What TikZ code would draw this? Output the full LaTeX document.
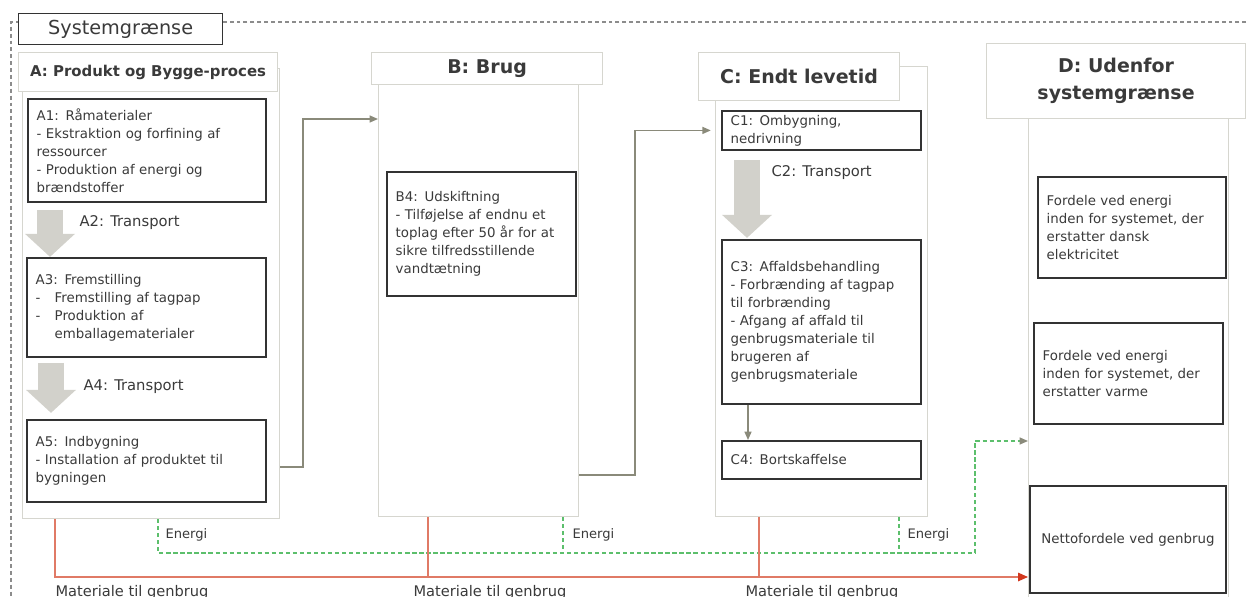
\documentclass[tikz,border=0pt]{standalone}
\usepackage{fontspec}
\setmainfont{DejaVu Sans}
\usetikzlibrary{arrows.meta, positioning}
\definecolor{cdark}{HTML}{333333}
\definecolor{ctext}{HTML}{3A3A3A}
\definecolor{cedge}{HTML}{D6D6CF}
\definecolor{cline}{HTML}{8A8A7A}
\definecolor{cshade}{HTML}{D2D1CB}
\definecolor{cgreen}{HTML}{5CBF6C}
\definecolor{cred}{HTML}{E07A66}
\definecolor{credtip}{HTML}{D2381E}
\definecolor{cgrey}{HTML}{8C8C8C}
\tikzset{
  every picture/.style={line width=0.8pt},
  col/.style={draw=cedge, fill=white, anchor=north west, inner sep=0pt},
  title/.style={draw=cedge, fill=white, anchor=north west, align=center, text=ctext, font=\fontsize{13.5}{19}\selectfont\bfseries},
  box/.style={draw=cdark, line width=1.3pt, fill=white, anchor=north west, align=left, inner xsep=2.2mm, inner ysep=1pt, text=ctext, font=\fontsize{9.5}{12.8}\selectfont},
  flow/.style={-{Triangle[length=6pt, width=5pt]}, draw=cline, line width=1pt},
  shaft/.style={draw=cshade, line width=6.5mm, -{Triangle[length=5.75mm, width=12.5mm, line width=0pt]}},
  energi/.style={draw=cgreen, dash pattern=on 3pt off 2pt, line width=0.9pt},
  genbrug/.style={draw=cred, line width=0.9pt},
  note/.style={text=ctext, font=\fontsize{9.3}{11}\selectfont, inner sep=0pt},
  boundary/.style={draw=cgrey, dash pattern=on 2.8pt off 2.1pt, line width=0.8pt},
}

\begin{document}
\begin{tikzpicture}
  \useasboundingbox (0,0) rectangle (31.2,-14.925);
  \clip (0,0) rectangle (31.2,-14.925);
  % system boundary
  \draw[boundary] (31.5,-0.55) -- (0.275,-0.55) -- (0.275,-15.2);
  \node[draw=cdark, line width=0.9pt, fill=white, anchor=north west, minimum width=5.1cm, minimum height=0.775cm, text=ctext, font=\fontsize{13.7}{16}\selectfont] (sys) at (0.45,-0.325) {Systemgrænse};

  % columns
  \node[col, minimum width=6.425cm, minimum height=11.25cm] (abody) at (0.55,-1.7) {};
  \node[col, minimum width=5cm, minimum height=11.2cm] (bbody) at (9.45,-1.7) {};
  \node[col, minimum width=5.3cm, minimum height=11.25cm] (cbody) at (17.875,-1.65) {};
  \node[col, minimum width=5cm, minimum height=13.7cm] (dbody) at (25.7,-1.5) {};
  \node[title, font=\fontsize{10.6}{13}\selectfont\bfseries, minimum width=6.475cm, minimum height=0.975cm] (ahead) at (0.45,-1.3) {A: Produkt og Bygge-proces};
  \node[title, minimum width=5.775cm, minimum height=0.8cm] (bhead) at (9.275,-1.3) {B: Brug};
  \node[title, minimum width=5.025cm, minimum height=1.2cm] (chead) at (17.45,-1.3) {C: Endt levetid};
  \node[title, minimum width=6.475cm, minimum height=1.875cm] (dhead) at (24.65,-1.075) {D: Udenfor\\systemgrænse};

  % A
  \node[box, text width=5.51cm, minimum height=2.575cm] (a1) at (0.675,-2.45) {A1: Råmaterialer\\- Ekstraktion og forfining af\\ressourcer\\- Produktion af energi og\\brændstoffer};
  \node[box, text width=5.535cm, minimum height=2.475cm] (a3) at (0.65,-6.425) {A3: Fremstilling\\\makebox[4.75mm][l]{-}Fremstilling af tagpap\\\makebox[4.75mm][l]{-}Produktion af\\\hspace*{4.75mm}emballagematerialer};
  \node[box, text width=5.535cm, minimum height=2.05cm] (a5) at (0.65,-10.475) {A5: Indbygning\\- Installation af produktet til\\bygningen};
  \draw[shaft] ([xshift=5.75mm, yshift=-1.75mm]a1.south west) -- ++(0,-1.175);
  \draw[shaft] ([xshift=6.25mm, yshift=-1.25mm]a3.south west) -- ++(0,-1.25);
  \node[note, font=\fontsize{10.5}{12}\selectfont, anchor=west] (a2lab) at (1.975,-5.575) {A2: Transport};
  \node[note, font=\fontsize{10.5}{12}\selectfont, anchor=west] (a4lab) at (2.075,-9.675) {A4: Transport};

  % B
  \node[box, text width=4.285cm, minimum height=3.1cm] (b4) at (9.65,-4.275) {B4: Udskiftning\\- Tilføjelse af endnu et\\toplag efter 50 år for at\\sikre tilfredsstillende\\vandtætning};

  % C
  \node[box, text width=4.535cm, minimum height=0.975cm] (c1) at (18.025,-2.75) {C1: Ombygning,\\nedrivning};
  \node[box, text width=4.535cm, minimum height=4.1cm] (c3) at (18.025,-5.975) {C3: Affaldsbehandling\\- Forbrænding af tagpap\\til forbrænding\\- Afgang af affald til\\genbrugsmateriale til\\brugeren af\\genbrugsmateriale};
  \node[box, text width=4.535cm, minimum height=0.95cm] (c4) at (18.025,-11.0) {C4: Bortskaffelse};
  \draw[shaft] ([xshift=6.5mm, yshift=-2.25mm]c1.south west) -- ++(0,-1.95);
  \node[note, font=\fontsize{10.5}{12}\selectfont, anchor=west] (c2lab) at (19.275,-4.325) {C2: Transport};
  \draw[flow] ([xshift=6.75mm]c3.south west) -- ([xshift=6.75mm]c4.north west);

  % D
  \node[box, text width=4.26cm, minimum height=2.525cm] (d1) at (25.925,-4.4) {Fordele ved energi\\inden for systemet, der\\erstatter dansk\\elektricitet};
  \node[box, text width=4.285cm, minimum height=2.525cm] (d2) at (25.825,-8.05) {Fordele ved energi\\inden for systemet, der\\erstatter varme};
  \node[box, text width=4.46cm, minimum height=2.675cm, align=center] (d3) at (25.725,-12.125) {Nettofordele ved genbrug};

  % flow between stages
  \draw[flow] ([yshift=13mm]abody.south east) -- ++(0.575,0) |- ([yshift=-12.75mm]bbody.north west);
  \draw[flow, shorten >=3pt] ([yshift=10.5mm]bbody.south east) -- ++(1.4,0) |- (cbody.west |- c1);

  % energi
  \coordinate (ea) at (3.95,-13.825);
  \coordinate (eb) at (14.075,-13.825);
  \coordinate (ec) at (22.475,-13.825);
  \coordinate (ed) at (24.375,-13.825);
  \coordinate (ein) at (0,-11.025);
  \draw[energi] (abody.south -| ea) -- (ea) -- (ed);
  \draw[energi] (bbody.south -| eb) -- (eb);
  \draw[energi] (cbody.south -| ec) -- (ec);
  \draw[energi, -{Triangle[length=6pt, width=5pt, color=cline]}] (ed) |- (dbody.west |- ein);
  \node[note, anchor=west] (ena) at (4.125,-13.375) {Energi};
  \node[note, anchor=west] (enb) at (14.3,-13.375) {Energi};
  \node[note, anchor=west] (enc) at (22.675,-13.375) {Energi};

  % materiale til genbrug
  \coordinate (ra) at (1.375,-14.425);
  \coordinate (rb) at (10.7,-14.425);
  \coordinate (rc) at (18.975,-14.425);
  \draw[genbrug, -{Triangle[length=7pt, width=6pt, color=credtip]}] (abody.south -| ra) -- (ra) -- (dbody.west |- ra);
  \draw[genbrug] (bbody.south -| rb) -- (rb);
  \draw[genbrug] (cbody.south -| rc) -- (rc);
  \node[note, font=\fontsize{10.4}{12}\selectfont, anchor=base west] (ma) at (1.375,-14.9) {Materiale til genbrug};
  \node[note, font=\fontsize{10.4}{12}\selectfont, anchor=base west] (mb) at (10.325,-14.9) {Materiale til genbrug};
  \node[note, font=\fontsize{10.4}{12}\selectfont, anchor=base west] (mc) at (18.625,-14.9) {Materiale til genbrug};
\end{tikzpicture}
\end{document}
